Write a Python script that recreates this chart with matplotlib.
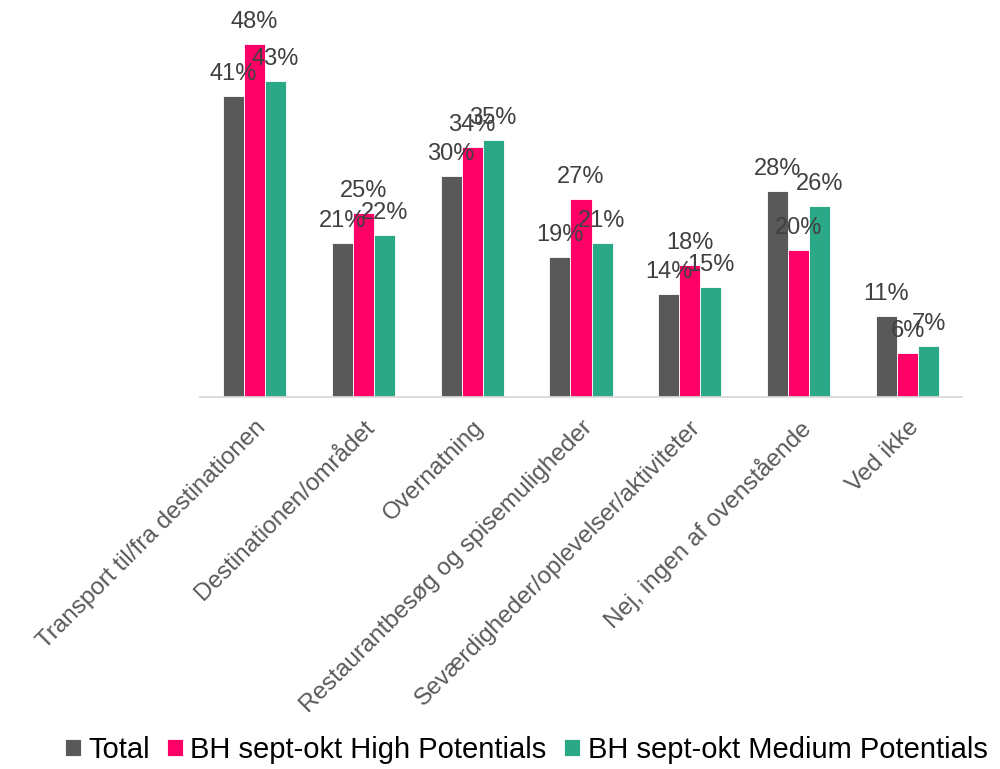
import matplotlib
matplotlib.use("Agg")
import matplotlib.pyplot as plt
import numpy as np

categories = ["Transport til/fra destinationen", "Destinationen/området", "Overnatning",
              "Restaurantbesøg og spisemuligheder", "Seværdigheder/oplevelser/aktiviteter",
              "Nej, ingen af ovenstående", "Ved ikke"]
series_names = ["Total", "BH sept-okt High Potentials", "BH sept-okt Medium Potentials"]
total = [41, 21, 30, 19, 14, 28, 11]
high = [48, 25, 34, 27, 18, 20, 6]
medium = [43, 22, 35, 21, 15, 26, 7]
colors = ["#595959", "#FF0066", "#2BA886"]

plt.rcParams['font.family'] = ['Liberation Sans', 'DejaVu Sans']

fig = plt.figure(figsize=(10, 7.69), dpi=100)
ax = fig.add_axes([0.2, 1 - 397 / 769, 0.762, 397 / 769])

x = np.arange(len(categories))
w = 0.193
for i, (vals, c, name) in enumerate(zip([total, high, medium], colors, series_names)):
    bars = ax.bar(x + (i - 1) * w, vals, width=w, color=c, edgecolor="white",
                  linewidth=0.6, label=name, zorder=2)
    for b, v in zip(bars, vals):
        ax.annotate(f"{v}%", (b.get_x() + b.get_width() / 2, b.get_height()),
                    xytext=(0, 11.5), textcoords="offset points", ha="center",
                    va="baseline", fontsize=17, color="#404040", zorder=3)

ax.set_xlim(-0.5, len(categories) - 0.5)
ax.set_ylim(0, 54)
ax.set_yticks([])
for s in ["top", "right", "left"]:
    ax.spines[s].set_visible(False)
ax.spines["bottom"].set_color("#D9D9D9")
ax.spines["bottom"].set_linewidth(1.3)
ax.set_xticks(x)
ax.set_xticklabels(categories, rotation=45, ha="right", va="top",
                   rotation_mode="anchor", fontsize=17.5, color="#595959")
ax.tick_params(axis="x", length=0, pad=14)

handles, labels = ax.get_legend_handles_labels()
fig.legend(handles, labels, loc="center", bbox_to_anchor=(0.526, 0.025), ncol=3,
           frameon=False, fontsize=21, handlelength=0.55, handleheight=0.55,
           handletextpad=0.25, columnspacing=0.6, labelcolor="#000000")

fig.savefig("out.png", dpi=100)
